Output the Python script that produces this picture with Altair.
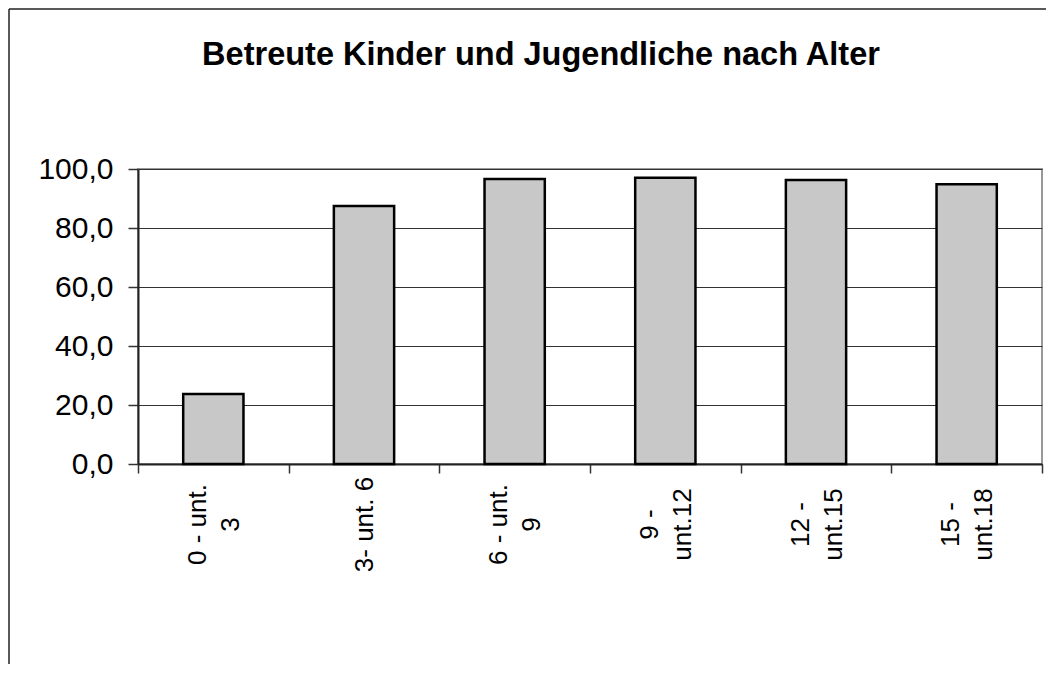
import altair as alt
import pandas as pd

categories = ["0 - unt.\n3", "3- unt. 6", "6 - unt.\n9", "9 -\nunt.12", "12 -\nunt.15", "15 -\nunt.18"]
values = [23.7, 87.5, 96.6, 97.0, 96.3, 94.8]
y_ticks = [0, 20, 40, 60, 80, 100]
title_text = "Betreute Kinder und Jugendliche nach Alter"

FONT = "Liberation Sans"

df = pd.DataFrame({"Alter": categories, "Wert": values})

bars = alt.Chart(df).mark_bar(
    width=alt.RelativeBandSize(0.4),
    fill="#c8c8c8",
    stroke="#000000",
    strokeWidth=2.5,
).encode(
    x=alt.X(
        "Alter:N",
        sort=categories,
        scale=alt.Scale(paddingInner=0, paddingOuter=0),
        axis=alt.Axis(
            title=None,
            labelExpr="split(datum.label, '\\n')",
            labelAngle=270,
            labelAlign="center",
            labelBaseline="middle",
            labelLineHeight=33,
            labelPadding=51,
            labelOffset=alt.condition("indexof(datum.label, '\\n') >= 0", alt.value(-16), alt.value(0)),
            labelFont=FONT,
            labelFontSize=26,
            labelColor="#000000",
            labelOverlap=False,
            labelFlush=False,
            tickBand="extent",
            tickSize=9,
            tickWidth=1.5,
            tickColor="#333333",
            domainColor="#222222",
            domainWidth=2,
            grid=False,
        ),
    ),
    y=alt.Y(
        "Wert:Q",
        scale=alt.Scale(domain=[0, 100], nice=False),
        axis=alt.Axis(
            title=None,
            values=y_ticks,
            labelExpr="replace(format(datum.value, '.1f'), '.', ',')",
            labelFont=FONT,
            labelFontSize=30,
            labelColor="#000000",
            labelPadding=15,
            tickSize=10,
            tickWidth=1.5,
            tickColor="#333333",
            domainColor="#222222",
            domainWidth=2,
            grid=True,
            gridColor="#333333",
            gridWidth=1,
        ),
    ),
)

frame_df = pd.DataFrame({"a": [0]})
frame_left = alt.Chart(frame_df).mark_rule(color="#222222", strokeWidth=1.5).encode(
    x=alt.value(-129), y=alt.value(-160), y2=alt.value(520)
)
frame_top = alt.Chart(frame_df).mark_rule(color="#222222", strokeWidth=1.5).encode(
    x=alt.value(-129), x2=alt.value(930), y=alt.value(-160)
)

chart = alt.layer(frame_left, frame_top, bars).properties(
    width=904,
    height=295,
    title=alt.TitleParams(
        text=title_text,
        font=FONT,
        fontSize=32.5,
        fontWeight="bold",
        color="#000000",
        anchor="middle",
        dx=-49,
        offset=-63,
    ),
    padding={"left": 130, "top": 161, "right": 4, "bottom": 200},
    autosize=alt.AutoSizeParams(type="none"),
).configure_view(
    stroke="#999999",
    strokeWidth=2,
)

chart.save("out.html", embed_options={"renderer": "svg", "actions": False})
